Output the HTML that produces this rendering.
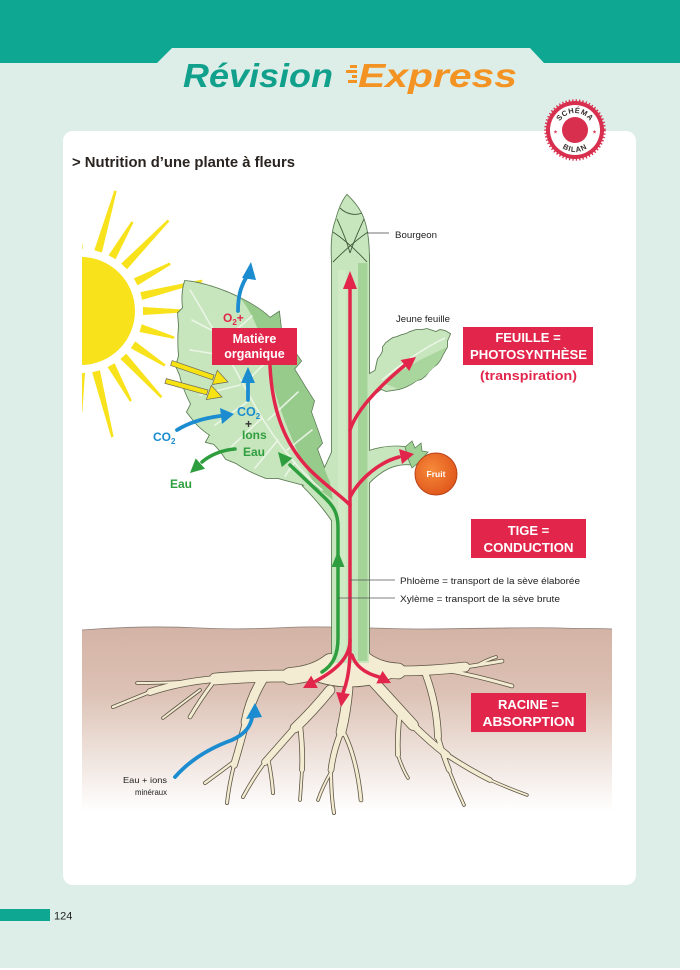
<!DOCTYPE html>
<html><head><meta charset="utf-8"><style>html,body{margin:0;padding:0;background:#fff}svg{display:block}</style></head>
<body>
<svg width="700" height="970" viewBox="0 0 700 970" xmlns="http://www.w3.org/2000/svg" font-family="'Liberation Sans', sans-serif">
<defs>
<linearGradient id="soil" x1="0" y1="627" x2="0" y2="812" gradientUnits="userSpaceOnUse">
<stop offset="0" stop-color="#d4b3a5"/><stop offset="0.35" stop-color="#dcc1b4"/><stop offset="0.7" stop-color="#efe3dd"/><stop offset="1" stop-color="#ffffff"/>
</linearGradient>
<radialGradient id="fr" cx="0.4" cy="0.4" r="0.65"><stop offset="0" stop-color="#f68a3a"/><stop offset="1" stop-color="#e0561b"/></radialGradient>
<clipPath id="sunclip"><rect x="82" y="150" width="300" height="400"/></clipPath>
<clipPath id="leafclip"><path id="leafp" d="M185,281 C200,282 222,289 240,298 C252,304 263,311 270,318 L279,312 L281,329 C287,340 293,350 301,361 L294,369 C301,380 308,392 314,401 L311,412 C315,423 319,434 322,443 L317,449 C321,460 325,470 330,482 L333,500 L320,490 C306,485 292,482 278,478 L266,478 C255,474 245,469 236,463 L226,459 C222,453 218,448 214,444 L206,442 L210,435 C204,431 198,426 194,421 L187,412 L191,404 C186,394 182,385 180,375 L176,366 L179,356 C178,346 178,336 179,326 L178,313 L183,308 C182,300 182,290 185,281 Z"/></clipPath>
<g id="plant">
<path d="M185,281 C200,282 222,289 240,298 C252,304 263,311 270,318 L279,312 L281,329 C287,340 293,350 301,361 L294,369 C301,380 308,392 314,401 L311,412 C315,423 319,434 322,443 L317,449 C321,460 325,470 330,482 L333,500 L320,490 C306,485 292,482 278,478 L266,478 C255,474 245,469 236,463 L226,459 C222,453 218,448 214,444 L206,442 L210,435 C204,431 198,426 194,421 L187,412 L191,404 C186,394 182,385 180,375 L176,366 L179,356 C178,346 178,336 179,326 L178,313 L183,308 C182,300 182,290 185,281 Z"/>
<rect x="332" y="255" width="37" height="408"/>
<path d="M333,450 L333,522 C325,510 315,498 303,486 L322,474 Z"/>
<path d="M347,195 C352,200 360,208 364,220 C368,232 369,245 369,262 L332,262 C331,245 332,230 336,220 C339,208 343,200 347,195 Z"/>
<path d="M366,376 L380,368 L387,384 L366,401 Z"/>
<path d="M377,387 L386,391 L393,390 L399,389 L405,387 L411,384 L417,380 L421,379 L425,376 L429,371 L433,367 L437,364 L440,360 L443,354 L447,347 L447,341 L450,334 L445,331 L440,330 L436,332 L433,331 L427,329 L422,330 L416,330 L410,332 L406,334 L402,335 L397,337 L393,338 L390,340 L386,343 L383,347 L383,351 L381,355 L378,359 L377,363 L376,368 L375,372 L376,380 Z"/>
<path d="M366,452 C380,447 396,444 414,449 L414,465 C398,462 382,468 366,486 Z"/>
</g>
</defs>

<rect width="700" height="970" fill="#fff"/>
<rect x="0" y="0" width="680" height="968" fill="#ddeee8"/>
<path d="M0,0 H680 V63 H544 L530,48 H172 L157,63 H0 Z" fill="#0ea792"/>

<!-- title -->
<text x="183" y="87" font-size="33" font-weight="bold" font-style="italic" fill="#10a08c" textLength="150" lengthAdjust="spacingAndGlyphs">Révision</text>
<g fill="#f39323">
<rect x="350" y="65" width="7" height="3"/><rect x="346" y="70" width="11" height="3"/><rect x="352" y="75" width="5" height="3"/><rect x="348" y="80" width="9" height="3"/>
</g>
<text x="358" y="87" font-size="33" font-weight="bold" font-style="italic" fill="#f39323" textLength="159" lengthAdjust="spacingAndGlyphs">Express</text>

<!-- card -->
<rect x="63" y="131" width="573" height="754" rx="10" fill="#fff"/>

<!-- badge -->
<circle cx="575" cy="130" r="29.5" fill="none" stroke="#d82f4f" stroke-width="2.5" stroke-dasharray="1.3 2.1"/>
<circle cx="575" cy="130" r="29" fill="#d82f4f"/>
<circle cx="575" cy="130" r="25" fill="#fff"/>
<circle cx="575" cy="130" r="13" fill="#d82f4f"/>
<defs>
<path id="arcTop" d="M557,131 A18,18 0 0 1 593,131"/>
<path id="arcBot" d="M554,131 A21,21 0 0 0 596,131"/>
</defs>
<text font-size="7.5" font-weight="bold" fill="#3a2f2f" letter-spacing="0.6"><textPath href="#arcTop" startOffset="50%" text-anchor="middle">SCHÉMA</textPath></text>
<text font-size="7.5" font-weight="bold" fill="#3a2f2f" letter-spacing="0.8"><textPath href="#arcBot" startOffset="50%" text-anchor="middle">BILAN</textPath></text>
<text x="555.5" y="133.5" font-size="5" fill="#d82f4f" text-anchor="middle">★</text>
<text x="594.5" y="133.5" font-size="5" fill="#d82f4f" text-anchor="middle">★</text>

<!-- heading -->
<text x="72" y="167" font-size="15" font-weight="bold" fill="#2a2420" textLength="223" lengthAdjust="spacingAndGlyphs">&gt; Nutrition d’une plante à fleurs</text>

<!-- soil -->
<path d="M82,630 C120,627 160,626 200,628 C240,630 270,628 300,627 C340,626 380,629 420,629 C470,629 520,627 560,628 C585,629 600,628 612,629 L612,812 L82,812 Z" fill="url(#soil)"/>
<path d="M82,630 C120,627 160,626 200,628 C240,630 270,628 300,627 C340,626 380,629 420,629 C470,629 520,627 560,628 C585,629 600,628 612,629" fill="none" stroke="#8e837c" stroke-width="0.8"/>

<!-- sun -->
<g clip-path="url(#sunclip)" fill="#f8e21b">
<circle cx="81" cy="311" r="54"/>
<polygon points="82.8,248.9 78.7,211.1 76.3,211.1 74.8,249.1"/>
<polygon points="101.9,252.5 116.7,191.1 114.3,190.5 94.3,250.3"/>
<polygon points="115.5,259.3 133.5,222.4 131.5,221.2 108.5,255.3"/>
<polygon points="127,269.2 169.4,221.2 167.6,219.6 121.2,263.6"/>
<polygon points="137.6,285.4 170.8,264.7 169.6,262.5 133.8,278.4"/>
<polygon points="142.2,299.9 202.6,282 202,279.6 140.2,292.1"/>
<polygon points="143,315 187,312.2 187,309.8 143,307"/>
<polygon points="139.5,332 173.9,338.9 174.5,336.5 141.7,324.3"/>
<polygon points="130.8,348.2 164.2,366.5 165.6,364.5 135.2,341.4"/>
<polygon points="120.4,359 160.6,398.1 162.4,396.5 126.2,353.6"/>
<polygon points="107.6,367.1 129.9,401.7 131.9,400.5 114.6,363.3"/>
<polygon points="92.1,372.2 111.2,437.4 113.6,436.8 99.9,370.2"/>
<polygon points="77,373 79.8,413 82.2,413 85,373"/>
</g>

<!-- roots outline -->
<g fill="none" stroke="#5f5646" stroke-linecap="round" stroke-linejoin="round">
<path d="M333,645 C333,662 322,670 305,676 C330,690 370,690 395,676 C380,670 368,662 368,645" stroke-width="1.6"/>
<path d="M330,662 Q315,674 290,676" stroke-width="17.6"/>
<path d="M290,676 Q250,676 215,679" stroke-width="12.6"/>
<path d="M215,679 Q180,682 150,692" stroke-width="7.6"/>
<path d="M150,692 Q130,700 113,707" stroke-width="4"/>
<path d="M180,682 Q160,683 137,683" stroke-width="3.6"/>
<path d="M212,684 Q200,700 190,717" stroke-width="4.6"/>
<path d="M200,690 Q180,705 163,718" stroke-width="3.6"/>
<path d="M262,680 Q250,700 246,722" stroke-width="10.6"/>
<path d="M246,722 Q240,745 234,765" stroke-width="7.6"/>
<path d="M234,765 Q229,785 227,803" stroke-width="4"/>
<path d="M236,760 Q220,772 205,783" stroke-width="4"/>
<path d="M330,690 Q312,712 295,728" stroke-width="10.6"/>
<path d="M295,728 Q280,745 265,762" stroke-width="7.6"/>
<path d="M265,762 Q252,780 243,797" stroke-width="4"/>
<path d="M268,758 Q272,778 273,793" stroke-width="4"/>
<path d="M300,724 Q303,750 302,770" stroke-width="5.6"/>
<path d="M302,770 Q301,787 300,800" stroke-width="3.6"/>
<path d="M348,688 Q346,712 341,732" stroke-width="10.6"/>
<path d="M341,732 Q333,752 331,770" stroke-width="6.6"/>
<path d="M331,770 Q331,795 334,813" stroke-width="4"/>
<path d="M331,772 Q322,788 318,800" stroke-width="3.6"/>
<path d="M345,735 Q357,760 361,800" stroke-width="4.6"/>
<path d="M365,660 Q378,670 398,671" stroke-width="16.6"/>
<path d="M398,671 Q432,671 465,667" stroke-width="10.6"/>
<path d="M465,667 Q485,664 502,661" stroke-width="4.6"/>
<path d="M445,670 Q478,676 512,686" stroke-width="4.6"/>
<path d="M476,666 Q486,660 496,657" stroke-width="3.6"/>
<path d="M372,680 Q393,703 413,725" stroke-width="11.6"/>
<path d="M413,725 Q430,742 447,755" stroke-width="7.6"/>
<path d="M447,755 Q470,770 490,780" stroke-width="5.6"/>
<path d="M490,780 Q508,788 527,795" stroke-width="3.4"/>
<path d="M400,712 Q397,735 398,755" stroke-width="5.6"/>
<path d="M398,755 Q402,768 408,778" stroke-width="3.6"/>
<path d="M426,675 Q437,705 438,737" stroke-width="7.6"/>
<path d="M438,737 Q443,755 449,770" stroke-width="5.6"/>
<path d="M449,770 Q456,788 464,805" stroke-width="3.6"/>
</g>

<!-- plant outline -->
<use href="#plant" fill="none" stroke="#5d7f56" stroke-width="1.8"/>

<!-- roots fill -->
<g fill="none" stroke="#f3ecd2" stroke-linecap="round" stroke-linejoin="round">
<path d="M333,645 C333,662 322,670 305,676 C330,690 370,690 395,676 C380,670 368,662 368,645 Z" fill="#f3ecd2" stroke="none"/>
<path d="M330,662 Q315,674 290,676" stroke-width="16"/>
<path d="M290,676 Q250,676 215,679" stroke-width="11"/>
<path d="M215,679 Q180,682 150,692" stroke-width="6"/>
<path d="M150,692 Q130,700 113,707" stroke-width="2.4"/>
<path d="M180,682 Q160,683 137,683" stroke-width="2"/>
<path d="M212,684 Q200,700 190,717" stroke-width="3"/>
<path d="M200,690 Q180,705 163,718" stroke-width="2"/>
<path d="M262,680 Q250,700 246,722" stroke-width="9"/>
<path d="M246,722 Q240,745 234,765" stroke-width="6"/>
<path d="M234,765 Q229,785 227,803" stroke-width="2.4"/>
<path d="M236,760 Q220,772 205,783" stroke-width="2.4"/>
<path d="M330,690 Q312,712 295,728" stroke-width="9"/>
<path d="M295,728 Q280,745 265,762" stroke-width="6"/>
<path d="M265,762 Q252,780 243,797" stroke-width="2.4"/>
<path d="M268,758 Q272,778 273,793" stroke-width="2.4"/>
<path d="M300,724 Q303,750 302,770" stroke-width="4"/>
<path d="M302,770 Q301,787 300,800" stroke-width="2"/>
<path d="M348,688 Q346,712 341,732" stroke-width="9"/>
<path d="M341,732 Q333,752 331,770" stroke-width="5"/>
<path d="M331,770 Q331,795 334,813" stroke-width="2.4"/>
<path d="M331,772 Q322,788 318,800" stroke-width="2"/>
<path d="M345,735 Q357,760 361,800" stroke-width="3"/>
<path d="M365,660 Q378,670 398,671" stroke-width="15"/>
<path d="M398,671 Q432,671 465,667" stroke-width="9"/>
<path d="M465,667 Q485,664 502,661" stroke-width="3"/>
<path d="M445,670 Q478,676 512,686" stroke-width="3"/>
<path d="M476,666 Q486,660 496,657" stroke-width="2"/>
<path d="M372,680 Q393,703 413,725" stroke-width="10"/>
<path d="M413,725 Q430,742 447,755" stroke-width="6"/>
<path d="M447,755 Q470,770 490,780" stroke-width="4"/>
<path d="M490,780 Q508,788 527,795" stroke-width="1.8"/>
<path d="M400,712 Q397,735 398,755" stroke-width="4"/>
<path d="M398,755 Q402,768 408,778" stroke-width="2"/>
<path d="M426,675 Q437,705 438,737" stroke-width="6"/>
<path d="M438,737 Q443,755 449,770" stroke-width="4"/>
<path d="M449,770 Q456,788 464,805" stroke-width="2"/>
</g>

<!-- plant fill -->
<use href="#plant" fill="#c8e6bd"/>

<!-- leaf shading -->
<g clip-path="url(#leafclip)">
<path d="M240,298 C252,304 263,311 270,318 L279,312 L281,329 C287,340 293,350 301,361 L294,369 C301,380 308,392 314,401 L311,412 C315,423 319,434 322,443 L317,449 C321,460 325,470 330,482 L333,500 L318,490 C300,460 282,420 272,380 C265,345 255,315 240,298 Z" fill="#97cb8c"/>
<g fill="none" stroke="#eef7ea" stroke-width="1.6" stroke-linecap="round" opacity="0.9">
<path d="M190,290 C215,330 240,380 262,418 C282,450 304,475 322,490"/>
<path d="M215,332 L192,320"/><path d="M228,356 L190,350"/><path d="M240,385 L200,395"/>
<path d="M250,400 L215,425"/><path d="M262,418 L230,448"/><path d="M278,440 L255,468"/><path d="M295,462 L285,476"/>
<path d="M225,340 L252,316"/><path d="M248,380 L278,350"/><path d="M268,420 L298,392"/><path d="M287,450 L312,430"/>
</g>
</g>
<!-- stem stripes -->
<rect x="358" y="263" width="9.5" height="398" fill="#a5d499"/>
<rect x="338" y="270" width="8" height="390" fill="#d3ebc9" opacity="0.7"/>
<!-- young leaf shade & vein -->
<path d="M383,383 L399,389 L411,384 L425,376 L437,364 L447,347 L420,360 L400,372 Z" fill="#a9d69d"/>
<path d="M382,380 C400,365 420,350 445,338" fill="none" stroke="#eef7ea" stroke-width="1.4"/>
<!-- bud lines -->
<g fill="none" stroke="#3f5a3a" stroke-width="0.9">
<path d="M333,232 C345,240 356,250 367,262"/>
<path d="M368,232 C356,240 345,250 333,262"/>
<path d="M337,219 C341,228 346,238 350,253"/>
<path d="M364,219 C360,228 355,238 350,253"/>
<path d="M340,208 C346,214 355,216 362,213"/>
</g>

<!-- fruit -->
<path d="M405,447 L412,441 L415,448 L421,443 L422,451 L428,452 L423,458 L428,464 L418,463 L412,468 L409,461 Z" fill="#9fd294" stroke="#5d7f56" stroke-width="0.8"/>
<circle cx="436" cy="474" r="21" fill="url(#fr)" stroke="#b8441a" stroke-width="1"/>
<text x="436" y="477" font-size="8.5" fill="#fff" text-anchor="middle" font-weight="bold">Fruit</text>

<!-- red arrows -->
<g fill="none" stroke="#e2264b" stroke-width="3.5" stroke-linecap="round">
<path d="M350,655 L350,286"/>
<path d="M350,430 C356,412 375,390 404,366"/>
<path d="M350,497 C360,478 380,462 399,457"/>
<path d="M270,366 C272,410 285,445 310,470 C325,485 340,495 350,505"/>
<path d="M350,640 C350,655 340,668 316,681"/>
<path d="M350,655 C349,675 346,685 343,693"/>
<path d="M352,655 C356,668 368,674 379,677"/>
</g>
<g fill="#e2264b">
<polygon points="350,271 343,289 357,289"/>
<polygon points="416,357 409.2,371 400.6,360"/>
<polygon points="414,454 399,449 402,464"/>
<polygon points="303,688 311.2,675.6 317.8,688"/>
<polygon points="341,707 349.9,694 336.1,692"/>
<polygon points="391,683 376.3,683.5 382.5,670.9"/>
</g>

<!-- green arrows -->
<g fill="none" stroke="#2f9e3e" stroke-width="3.5" stroke-linecap="round">
<path d="M322,672 C333,665 338,655 338,638 L338,527 C338,513 333,506 326,499 L290,465"/>
<path d="M235,449 C222,450 210,455 202,462"/>
</g>
<g fill="#2f9e3e">
<polygon points="338,551 331.5,567 344.5,567"/>
<polygon points="278,452 292.4,458.1 281.8,467.1"/>
<polygon points="190,473 195.7,458.4 205.1,468.8"/>
</g>

<!-- blue arrows -->
<g fill="none" stroke="#1b8ccf" stroke-width="3.8" stroke-linecap="round">
<path d="M238,311 C238,298 240,288 246,278"/>
<path d="M248,400 L248,382"/>
<path d="M177,430 C190,422 205,418 220,416"/>
<path d="M175,777 C190,760 210,748 232,740 C245,734 250,727 252,718"/>
</g>
<g fill="#1b8ccf">
<polygon points="251,262 242,278 256,280"/>
<polygon points="248,367 241,383 255,383"/>
<polygon points="234,414 220,408 222,424"/>
<polygon points="255,703 246,719 262,717"/>
</g>

<!-- yellow arrows -->
<g stroke="#6d6a55" stroke-width="0.7" fill="#f7e214">
<polygon points="172.2,360.6 214,375 212.5,379.8 170.6,365.4"/>
<polygon points="228,382 212.3,384.5 217.3,370.3"/>
<polygon points="166.3,378.6 208,390 206.6,394.8 164.9,383.4"/>
<polygon points="222,397 206.3,399.6 211.2,385.4"/>
</g>

<!-- leaf labels -->
<text x="223" y="322" font-size="12" font-weight="bold" fill="#e2264b">O<tspan font-size="8" dy="3">2</tspan><tspan dy="-3">+</tspan></text>
<rect x="212" y="328" width="85" height="37" fill="#e2264b"/>
<text x="254.5" y="343" font-size="12.5" font-weight="bold" fill="#fff" text-anchor="middle">Matière</text>
<text x="254.5" y="358" font-size="12.5" font-weight="bold" fill="#fff" text-anchor="middle">organique</text>
<text x="237" y="416" font-size="12.5" font-weight="bold" fill="#1b8ccf">CO<tspan font-size="8" dy="3">2</tspan></text>
<text x="245" y="428" font-size="12" font-weight="bold" fill="#333">+</text>
<text x="242" y="439" font-size="12" font-weight="bold" fill="#2f9e3e">Ions</text>
<text x="243" y="456" font-size="12" font-weight="bold" fill="#2f9e3e">Eau</text>
<text x="153" y="441" font-size="12" font-weight="bold" fill="#1b8ccf">CO<tspan font-size="8" dy="3">2</tspan></text>
<text x="170" y="488" font-size="12" font-weight="bold" fill="#2f9e3e">Eau</text>

<!-- right labels -->
<path d="M368,233 L389,233" stroke="#444" stroke-width="0.8"/>
<text x="395" y="238" font-size="9.5" fill="#222" textLength="42" lengthAdjust="spacingAndGlyphs">Bourgeon</text>
<text x="396" y="322" font-size="9.5" fill="#222" textLength="54" lengthAdjust="spacingAndGlyphs">Jeune feuille</text>
<rect x="463" y="327" width="130" height="38" fill="#e2264b"/>
<text x="528" y="342" font-size="13" font-weight="bold" fill="#fff" text-anchor="middle">FEUILLE =</text>
<text x="528.5" y="359" font-size="13" font-weight="bold" fill="#fff" text-anchor="middle" textLength="117" lengthAdjust="spacingAndGlyphs">PHOTOSYNTHÈSE</text>
<text x="480" y="380" font-size="13" font-weight="bold" fill="#e2264b" textLength="97" lengthAdjust="spacingAndGlyphs">(transpiration)</text>

<rect x="471" y="519" width="115" height="39" fill="#e2264b"/>
<text x="528.5" y="535" font-size="13" font-weight="bold" fill="#fff" text-anchor="middle">TIGE =</text>
<text x="528.5" y="552" font-size="13" font-weight="bold" fill="#fff" text-anchor="middle" textLength="90" lengthAdjust="spacingAndGlyphs">CONDUCTION</text>

<path d="M350,580 L395,580" stroke="#555" stroke-width="0.8"/>
<text x="400" y="584" font-size="9" fill="#222" textLength="180" lengthAdjust="spacingAndGlyphs">Phloème =  transport de la sève élaborée</text>
<path d="M338,598 L395,598" stroke="#555" stroke-width="0.8"/>
<text x="400" y="602" font-size="9" fill="#222" textLength="160" lengthAdjust="spacingAndGlyphs">Xylème =  transport de la sève brute</text>

<rect x="471" y="693" width="115" height="39" fill="#e2264b"/>
<text x="528.5" y="709" font-size="13" font-weight="bold" fill="#fff" text-anchor="middle">RACINE =</text>
<text x="528.5" y="726" font-size="13" font-weight="bold" fill="#fff" text-anchor="middle" textLength="92" lengthAdjust="spacingAndGlyphs">ABSORPTION</text>

<text x="123" y="783" font-size="8.5" fill="#222" textLength="44" lengthAdjust="spacingAndGlyphs">Eau + ions</text>
<text x="135" y="795" font-size="8.5" fill="#222" textLength="32" lengthAdjust="spacingAndGlyphs">minéraux</text>

<!-- page number -->
<rect x="0" y="909" width="50" height="12" fill="#0ea792"/>
<text x="54" y="919.5" font-size="11" fill="#222">124</text>
</svg>
</body></html>
